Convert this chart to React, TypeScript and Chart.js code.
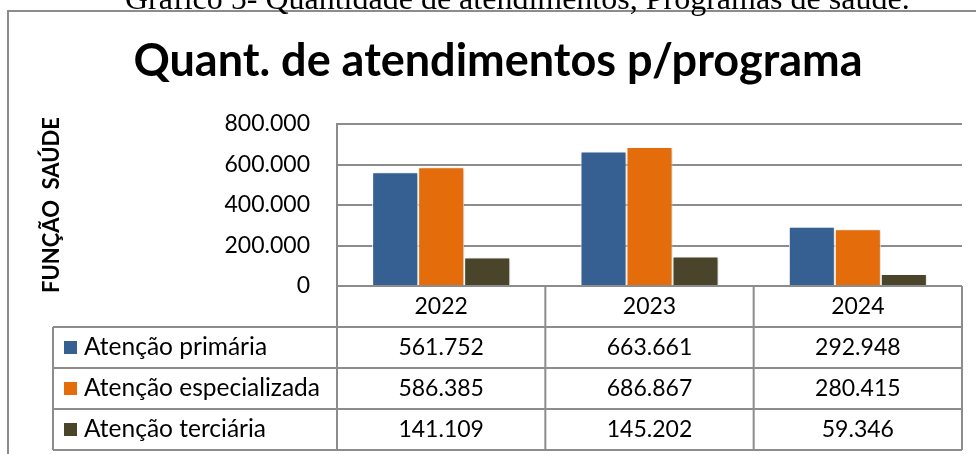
import React, { useEffect, useRef } from "react";
import { Chart, registerables } from "chart.js";

Chart.register(...registerables);

const categories = ["2022", "2023", "2024"];
const seriesNames = ["Atenção primária", "Atenção especializada", "Atenção terciária"];
const primaria = [561752, 663661, 292948];
const especializada = [586385, 686867, 280415];
const terciaria = [141109, 145202, 59346];
const seriesColors = ["#376092", "#E46C0A", "#4A452A"];
const yTicks = [0, 200000, 400000, 600000, 800000];
const chartTitle = "Quant. de atendimentos p/programa";
const yAxisTitle = "FUNÇÃO  SAÚDE";
const caption = "Gráfico 5- Quantidade de atendimentos, Programas de saúde.";

const seriesValues = [primaria, especializada, terciaria];

function fmt(n: number): string {
  return String(Math.round(n)).replace(/\B(?=(\d{3})+(?!\d))/g, ".");
}

const LINE = "#8c8c8c";
const FONT = "Lato";

const framePlugin = {
  id: "frame",
  beforeDraw(chart: any) {
    const ctx = chart.ctx;
    ctx.save();
    ctx.fillStyle = "#ffffff";
    ctx.fillRect(0, 0, chart.width, chart.height);
    ctx.strokeStyle = LINE;
    ctx.lineWidth = 2;
    ctx.beginPath();
    ctx.moveTo(8, chart.height);
    ctx.lineTo(8, 11);
    ctx.lineTo(chart.width, 11);
    ctx.stroke();
    ctx.fillStyle = "#000";
    ctx.font = "32px 'Liberation Serif'";
    ctx.textAlign = "left";
    ctx.textBaseline = "alphabetic";
    ctx.fillText(caption, 125, 9);
    ctx.restore();
  },
};

const shadowPlugin = {
  id: "barShadow",
  beforeDatasetsDraw(chart: any) {
    const ctx = chart.ctx;
    ctx.save();
    ctx.shadowColor = "rgba(0,0,0,0.22)";
    ctx.shadowBlur = 3;
    ctx.shadowOffsetX = 1.5;
    ctx.shadowOffsetY = 1;
  },
  afterDatasetsDraw(chart: any) {
    chart.ctx.restore();
  },
};

const tablePlugin = {
  id: "dataTable",
  afterDraw(chart: any) {
    const { ctx, chartArea } = chart;
    const xs = chart.scales.x;
    const n = categories.length;
    const colW = (chartArea.right - chartArea.left) / n;
    const top = chartArea.bottom;
    const rowH = 41;
    const legendLeft = 53;
    const nRows = seriesNames.length;
    const bottom = top + rowH * (nRows + 1);
    ctx.save();
    ctx.strokeStyle = LINE;
    ctx.lineWidth = 2;
    ctx.beginPath();
    ctx.moveTo(chartArea.left, top);
    ctx.lineTo(chartArea.right, top);
    for (let r = 1; r <= nRows + 1; r++) {
      const y = top + rowH * r;
      ctx.moveTo(legendLeft, y);
      ctx.lineTo(chartArea.right, y);
    }
    ctx.moveTo(legendLeft, top + rowH);
    ctx.lineTo(legendLeft, bottom);
    ctx.moveTo(chartArea.left, chartArea.top);
    ctx.lineTo(chartArea.left, bottom);
    for (let i = 0; i < n; i++) {
      const xr = xs.getPixelForValue(i) + colW / 2;
      ctx.moveTo(xr, top);
      ctx.lineTo(xr, bottom);
    }
    ctx.stroke();

    ctx.fillStyle = "#000";
    ctx.font = `23px ${FONT}`;
    ctx.textBaseline = "middle";
    ctx.textAlign = "center";
    for (let i = 0; i < n; i++) {
      const cx = xs.getPixelForValue(i);
      ctx.fillText(categories[i], cx, top + rowH / 2);
      for (let r = 0; r < nRows; r++) {
        ctx.fillText(fmt(seriesValues[r][i]), cx, top + rowH * (r + 1.5));
      }
    }
    ctx.textAlign = "left";
    ctx.font = `24.5px ${FONT}`;
    for (let r = 0; r < nRows; r++) {
      const cy = top + rowH * (r + 1.5);
      ctx.fillStyle = seriesColors[r];
      ctx.fillRect(64, cy - 6.5, 13, 13);
      ctx.fillStyle = "#000";
      ctx.fillText(seriesNames[r], 84, cy);
    }
    ctx.restore();
  },
};

export default function App() {
  const ref = useRef<HTMLCanvasElement | null>(null);
  useEffect(() => {
    if (!ref.current) return;
    const chart = new Chart(ref.current, {
      type: "bar",
      data: {
        labels: categories,
        datasets: seriesNames.map((name, i) => ({
          label: name,
          data: seriesValues[i],
          backgroundColor: seriesColors[i],
          borderColor: "#ffffff",
          borderWidth: 1,
          borderSkipped: "bottom",
          barPercentage: 1,
          categoryPercentage: 0.6625,
        })),
      },
      options: {
        responsive: false,
        animation: false,
        layout: { padding: { left: 34, right: 14, top: 0, bottom: 168 } },
        plugins: {
          legend: { display: false },
          tooltip: { enabled: false },
          title: {
            display: true,
            text: chartTitle,
            color: "#000",
            font: { family: FONT, size: 45, weight: "bold" },
            padding: { top: 34, bottom: 36 },
          },
        },
        scales: {
          x: { display: false },
          y: {
            min: 0,
            max: 800000,
            afterBuildTicks: (s: any) => {
              s.ticks = yTicks.map((v) => ({ value: v }));
            },
            afterFit: (s: any) => {
              s.width = 303;
            },
            ticks: {
              callback: (v: any) => fmt(Number(v)),
              color: "#000",
              font: { family: FONT, size: 23 },
              padding: 27,
            },
            grid: { color: LINE, lineWidth: 2, drawTicks: false },
            border: { display: true, color: LINE, width: 2 },
            title: {
              display: true,
              text: yAxisTitle,
              color: "#000",
              font: { family: FONT, size: 22, weight: "bold" },
              padding: { top: 5, bottom: 0 },
            },
          },
        },
      },
      plugins: [framePlugin, shadowPlugin, tablePlugin],
    });
    return () => chart.destroy();
  }, []);
  return (
    <div style={{ position: "fixed", left: 0, top: 0, width: 976, height: 454, background: "#fff" }}>
      <canvas ref={ref} width={976} height={454} style={{ display: "block", width: 976, height: 454 }} />
    </div>
  );
}
